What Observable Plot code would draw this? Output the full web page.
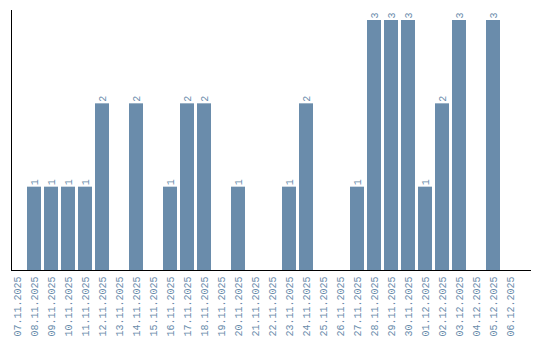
<!DOCTYPE html>
<html>
<head>
<meta charset="utf-8">
<script src="https://cdn.jsdelivr.net/npm/d3@7"></script>
<script src="https://cdn.jsdelivr.net/npm/@observablehq/plot@0.6"></script>
<style>
  html, body { margin: 0; padding: 0; background: #fff; }
  svg { display: block; }
</style>
</head>
<body>
<div id="chart"></div>
<script>
const dates = [
  "07.11.2025","08.11.2025","09.11.2025","10.11.2025","11.11.2025","12.11.2025",
  "13.11.2025","14.11.2025","15.11.2025","16.11.2025","17.11.2025","18.11.2025",
  "19.11.2025","20.11.2025","21.11.2025","22.11.2025","23.11.2025","24.11.2025",
  "25.11.2025","26.11.2025","27.11.2025","28.11.2025","29.11.2025","30.11.2025",
  "01.12.2025","02.12.2025","03.12.2025","04.12.2025","05.12.2025","06.12.2025"
];
const counts = [
  0,1,1,1,1,2,
  0,2,0,1,2,2,
  0,1,0,0,1,2,
  0,0,1,3,3,3,
  1,2,3,0,3,0
];
const barColor = "#6a8cab";
const textColor = "#6a8cab";
const font = "Liberation Mono, monospace";

const data = dates.map((d, i) => ({date: d, count: counts[i]}));

const chart = Plot.plot({
  width: 540,
  height: 340,
  marginLeft: 11,
  marginRight: 9,
  marginTop: 10,
  marginBottom: 70,
  style: {fontFamily: font, fontSize: "10px", background: "#fff"},
  x: {type: "band", domain: dates, range: [8.5, 518.5], paddingInner: 0.17, paddingOuter: 0.085, align: 0.5},
  y: {domain: [0, 3.12], axis: null},
  marks: [
    Plot.barY(data, {x: "date", y: "count", fill: barColor}),
    Plot.text(data.filter(d => d.count > 0), {
      x: "date", y: "count", text: d => String(d.count),
      rotate: -90, textAnchor: "start", lineAnchor: "middle", dy: -2,
      fill: textColor, fontSize: 10, fontFamily: font
    }),
    Plot.axisX({tickRotate: -90, tickSize: 0, tickPadding: 6, fill: textColor, fontSize: 10, fontFamily: font, label: null}),
    Plot.ruleY([0], {stroke: "#000", strokeWidth: 1}),
    Plot.frame({anchor: "left", stroke: "#000", strokeWidth: 1})
  ]
});
document.getElementById("chart").appendChild(chart);
</script>
</body>
</html>
